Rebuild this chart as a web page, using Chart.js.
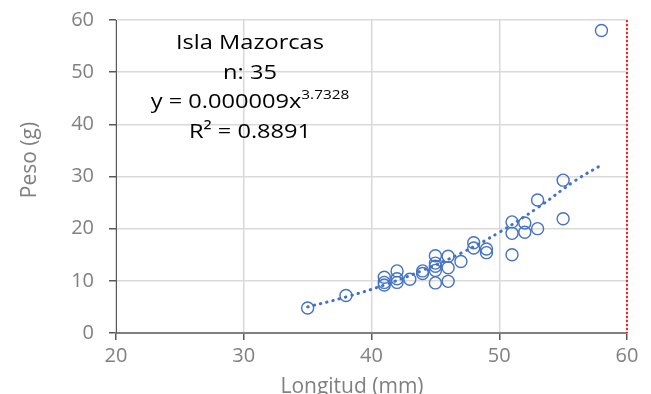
<!DOCTYPE html>
<html>
<head>
<meta charset="utf-8">
<script src="https://cdn.jsdelivr.net/npm/chart.js@4"></script>
<style>
  html, body { margin: 0; padding: 0; background: #fff; }
  #wrap { width: 651px; height: 394px; }
</style>
</head>
<body>
<div id="wrap"><canvas id="scatterChart"></canvas></div>
<script>
// longitud (mm) y peso (g)
const longitud = [35, 38, 41, 41, 41, 42, 42, 42, 43, 44, 44, 45, 45, 45, 45, 45,
    46, 46, 46, 47, 48, 48, 49, 49, 51, 51, 51, 52, 52, 53, 53, 55, 55, 58];
const peso = [4.8, 7.2, 10.7, 9.7, 9.2, 11.9, 10.4, 9.7, 10.3, 11.9, 11.4, 14.8, 13.4, 12.8, 12.0, 9.6,
    14.7, 12.5, 9.9, 13.7, 17.3, 16.3, 16.1, 15.4, 21.3, 19.1, 15.0, 21.1, 19.3, 25.5, 20.0, 29.3, 21.9, 58.0];

// linea de tendencia potencial
const trendX = [35, 38, 41, 44, 47, 50, 53, 56, 58];
const trendY = [5.0, 6.9, 9.2, 12.0, 15.3, 19.3, 24.0, 29.3, 32.2];

const xTicks = [20, 30, 40, 50, 60];
const yTicks = [0, 10, 20, 30, 40, 50, 60];

const annotationLines = ['Isla Mazorcas', 'n: 35', 'y = 0.000009x', 'R² = 0.8891'];

const FONT = '"Open Sans", sans-serif';
const BLUE = '#4472C4';

const overlay = {
    id: 'overlay',
    afterDraw(chart) {
        const ctx = chart.ctx;
        const xs = chart.scales.x;
        const area = chart.chartArea;
        ctx.save();

        // red dotted line at x = 60
        const xr = xs.getPixelForValue(60);
        ctx.strokeStyle = '#FF2020';
        ctx.lineWidth = 2;
        ctx.setLineDash([2, 2]);
        ctx.beginPath();
        ctx.moveTo(xr, area.top);
        ctx.lineTo(xr, area.bottom);
        ctx.stroke();
        ctx.setLineDash([]);

        // axis titles
        ctx.fillStyle = '#808080';
        ctx.font = '21px ' + FONT;
        ctx.textAlign = 'center';
        ctx.textBaseline = 'middle';
        ctx.fillText('Longitud (mm)', 352, 387);
        ctx.translate(30, 160);
        ctx.rotate(-Math.PI / 2);
        ctx.fillText('Peso (g)', 0, 0);
        ctx.restore();

        // annotation (texto algo ensanchado como en el original)
        ctx.save();
        ctx.fillStyle = '#000';
        ctx.textBaseline = 'middle';
        const cx = 250;
        ctx.translate(cx, 0);
        ctx.scale(1.18, 1);
        ctx.font = '20px ' + FONT;
        ctx.textAlign = 'center';
        ctx.fillText(annotationLines[0], 0, 43);
        ctx.fillText(annotationLines[1], 0, 73);
        ctx.fillText(annotationLines[3], 0, 132);
        // ecuacion con exponente
        const base = annotationLines[2];
        const sup = '3.7328';
        const wBase = ctx.measureText(base).width;
        ctx.font = '13px ' + FONT;
        const wSup = ctx.measureText(sup).width;
        const startX = -(wBase + wSup) / 2;
        ctx.textAlign = 'left';
        ctx.font = '20px ' + FONT;
        ctx.fillText(base, startX, 102);
        ctx.font = '13px ' + FONT;
        ctx.fillText(sup, startX + wBase, 95);
        ctx.restore();
    }
};

new Chart(document.getElementById('scatterChart'), {
    type: 'scatter',
    data: {
        datasets: [{
            label: 'Peso',
            data: longitud.map((x, i) => ({ x: x, y: peso[i] })),
            pointStyle: 'circle',
            pointRadius: 6,
            pointBorderColor: BLUE,
            pointBackgroundColor: 'rgba(0,0,0,0)',
            pointBorderWidth: 1.4,
            order: 1
        }, {
            label: 'Tendencia',
            type: 'line',
            data: trendX.map((x, i) => ({ x: x, y: trendY[i] })),
            borderColor: BLUE,
            borderWidth: 3,
            borderDash: [0.5, 6],
            borderCapStyle: 'round',
            pointRadius: 0,
            tension: 0.4,
            fill: false,
            order: 2
        }]
    },
    options: {
        responsive: true,
        maintainAspectRatio: false,
        animation: false,
        layout: { padding: { top: 20, right: 24, left: 0, bottom: 0 } },
        plugins: {
            legend: { display: false },
            tooltip: { enabled: false }
        },
        scales: {
            x: {
                type: 'linear',
                min: 20,
                max: 60,
                afterBuildTicks: s => { s.ticks = xTicks.map(v => ({ value: v })); },
                afterFit: s => { s.height = 61; s.paddingLeft = 0; s.paddingRight = 0; },
                grid: { color: '#D9D9D9', tickColor: '#595959', tickLength: 7, lineWidth: 1.5 },
                border: { color: '#808080', width: 2 },
                ticks: { color: '#808080', font: { size: 20, family: FONT }, padding: 4, maxRotation: 0 }
            },
            y: {
                type: 'linear',
                min: 0,
                max: 60,
                afterBuildTicks: s => { s.ticks = yTicks.map(v => ({ value: v })); },
                afterFit: s => { s.width = 116; s.paddingTop = 0; s.paddingBottom = 0; },
                grid: { color: '#D9D9D9', tickColor: '#595959', tickLength: 7, lineWidth: 1.5 },
                border: { color: '#595959', width: 1 },
                ticks: { color: '#808080', font: { size: 20, family: FONT }, padding: 15 }
            }
        }
    },
    plugins: [overlay]
});
</script>
</body>
</html>
